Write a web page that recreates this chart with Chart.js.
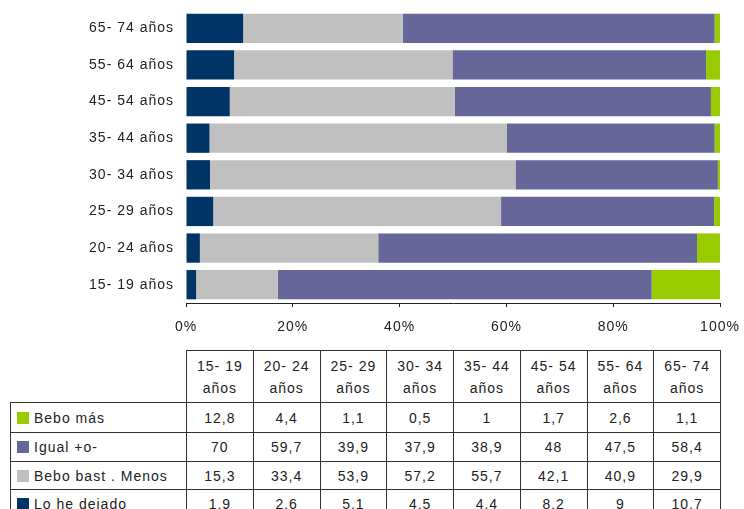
<!DOCTYPE html>
<html>
<head>
<meta charset="utf-8">
<script src="https://cdn.jsdelivr.net/npm/chart.js@4/dist/chart.umd.min.js"></script>
<style>
  html, body { margin: 0; padding: 0; background: #fff; width: 744px; height: 509px; overflow: hidden; }
  #chartBox { position: absolute; left: 0; top: 0; width: 744px; height: 340px; }
  #dataTable {
    position: absolute; left: 10px; top: 350px;
    border-collapse: collapse; table-layout: fixed;
    font-family: "Liberation Sans", Arial, sans-serif; font-size: 14px;
    letter-spacing: 1px; color: #222;
  }
  #dataTable td { border: 1px solid #333; text-align: center; padding: 0; white-space: nowrap; }
  #dataTable tr.head td { height: 51px; line-height: 22px; }
  #dataTable td.corner { border-top: none; border-left: none; }
  #dataTable td.serie { text-align: left; padding-left: 6px; }
  .sw { display: inline-block; width: 12px; height: 12px; margin-right: 5px; vertical-align: -1px; }
</style>
</head>
<body>
<div id="chartBox"><canvas id="chart" width="744" height="340"></canvas></div>
<table id="dataTable"></table>
<script>
// Grupos de edad (orden de la tabla, de 15-19 a 65-74)
const ageRanges = ['15- 19', '20- 24', '25- 29', '30- 34', '35- 44', '45- 54', '55- 64', '65- 74'];
const categories = ageRanges.map(a => a + ' años');

// Series (%)
const beboMas = [12.8, 4.4, 1.1, 0.5, 1, 1.7, 2.6, 1.1];
const igual = [70, 59.7, 39.9, 37.9, 38.9, 48, 47.5, 58.4];
const beboMenos = [15.3, 33.4, 53.9, 57.2, 55.7, 42.1, 40.9, 29.9];
const loHeDejado = [1.9, 2.6, 5.1, 4.5, 4.4, 8.2, 9, 10.7];

const xTicks = [0, 20, 40, 60, 80, 100];

const colors = {
  dejado: '#003366',
  menos: '#C0C0C0',
  igual: '#666699',
  mas: '#99CC00',
};

const fontFamily = '"Liberation Sans", Arial, sans-serif';

// letter spacing como en el original
const spacingPlugin = {
  id: 'spacing',
  beforeDraw(chart) {
    chart.ctx.letterSpacing = '1px';
  },
};

const ctx = document.getElementById('chart').getContext('2d');
new Chart(ctx, {
  type: 'bar',
  data: {
    labels: categories,
    datasets: [
      { label: 'Lo he dejado', data: loHeDejado, backgroundColor: colors.dejado },
      { label: 'Bebo bast . Menos', data: beboMenos, backgroundColor: colors.menos },
      { label: 'Igual +o-', data: igual, backgroundColor: colors.igual },
      { label: 'Bebo más', data: beboMas, backgroundColor: colors.mas },
    ],
  },
  options: {
    indexAxis: 'y',
    responsive: false,
    animation: false,
    datasets: {
      bar: { barPercentage: 0.8, categoryPercentage: 1, borderWidth: 0 },
    },
    layout: { padding: { top: 10, right: 24, left: 0, bottom: 0 } },
    plugins: {
      legend: { display: false },
      tooltip: { enabled: false },
    },
    scales: {
      x: {
        stacked: true,
        min: xTicks[0],
        max: xTicks[xTicks.length - 1],
        afterBuildTicks: (scale) => { scale.ticks = xTicks.map(v => ({ value: v })); },
        afterFit: (scale) => {
          scale.height = 37;
          scale.paddingLeft = 0;
          scale.paddingRight = 0;
        },
        grid: { drawOnChartArea: false, drawTicks: true, tickLength: 4, color: '#222' },
        border: { display: true, color: '#222', width: 1 },
        ticks: {
          padding: 12,
          color: '#222',
          font: { family: fontFamily, size: 14 },
          callback: (v) => v + '%',
        },
      },
      y: {
        stacked: true,
        reverse: true,
        afterFit: (scale) => {
          scale.width = 186;
          scale.paddingTop = 0;
          scale.paddingBottom = 0;
        },
        grid: { display: false, drawTicks: false },
        border: { display: false },
        ticks: {
          padding: 12,
          color: '#222',
          font: { family: fontFamily, size: 14 },
        },
      },
    },
  },
  plugins: [spacingPlugin],
});

// Tabla de datos bajo el gráfico
const tableRows = [
  { label: 'Bebo más', color: colors.mas, values: beboMas, h: 30 },
  { label: 'Igual +o-', color: colors.igual, values: igual, h: 29 },
  { label: 'Bebo bast . Menos', color: colors.menos, values: beboMenos, h: 28 },
  { label: 'Lo he dejado', color: colors.dejado, values: loHeDejado, h: 29 },
];

const fmt = (v) => String(v).replace('.', ',');
const table = document.getElementById('dataTable');
let html = '<colgroup><col style="width:176px">';
ageRanges.forEach(() => { html += '<col style="width:66.75px">'; });
html += '</colgroup>';
html += '<tr class="head"><td class="corner"></td>';
ageRanges.forEach(a => { html += `<td>${a}<br>años</td>`; });
html += '</tr>';
tableRows.forEach(r => {
  html += `<tr style="height:${r.h}px"><td class="serie"><span class="sw" style="background:${r.color}"></span>${r.label}</td>`;
  r.values.forEach(v => { html += `<td>${fmt(v)}</td>`; });
  html += '</tr>';
});
table.innerHTML = html;
</script>
</body>
</html>
